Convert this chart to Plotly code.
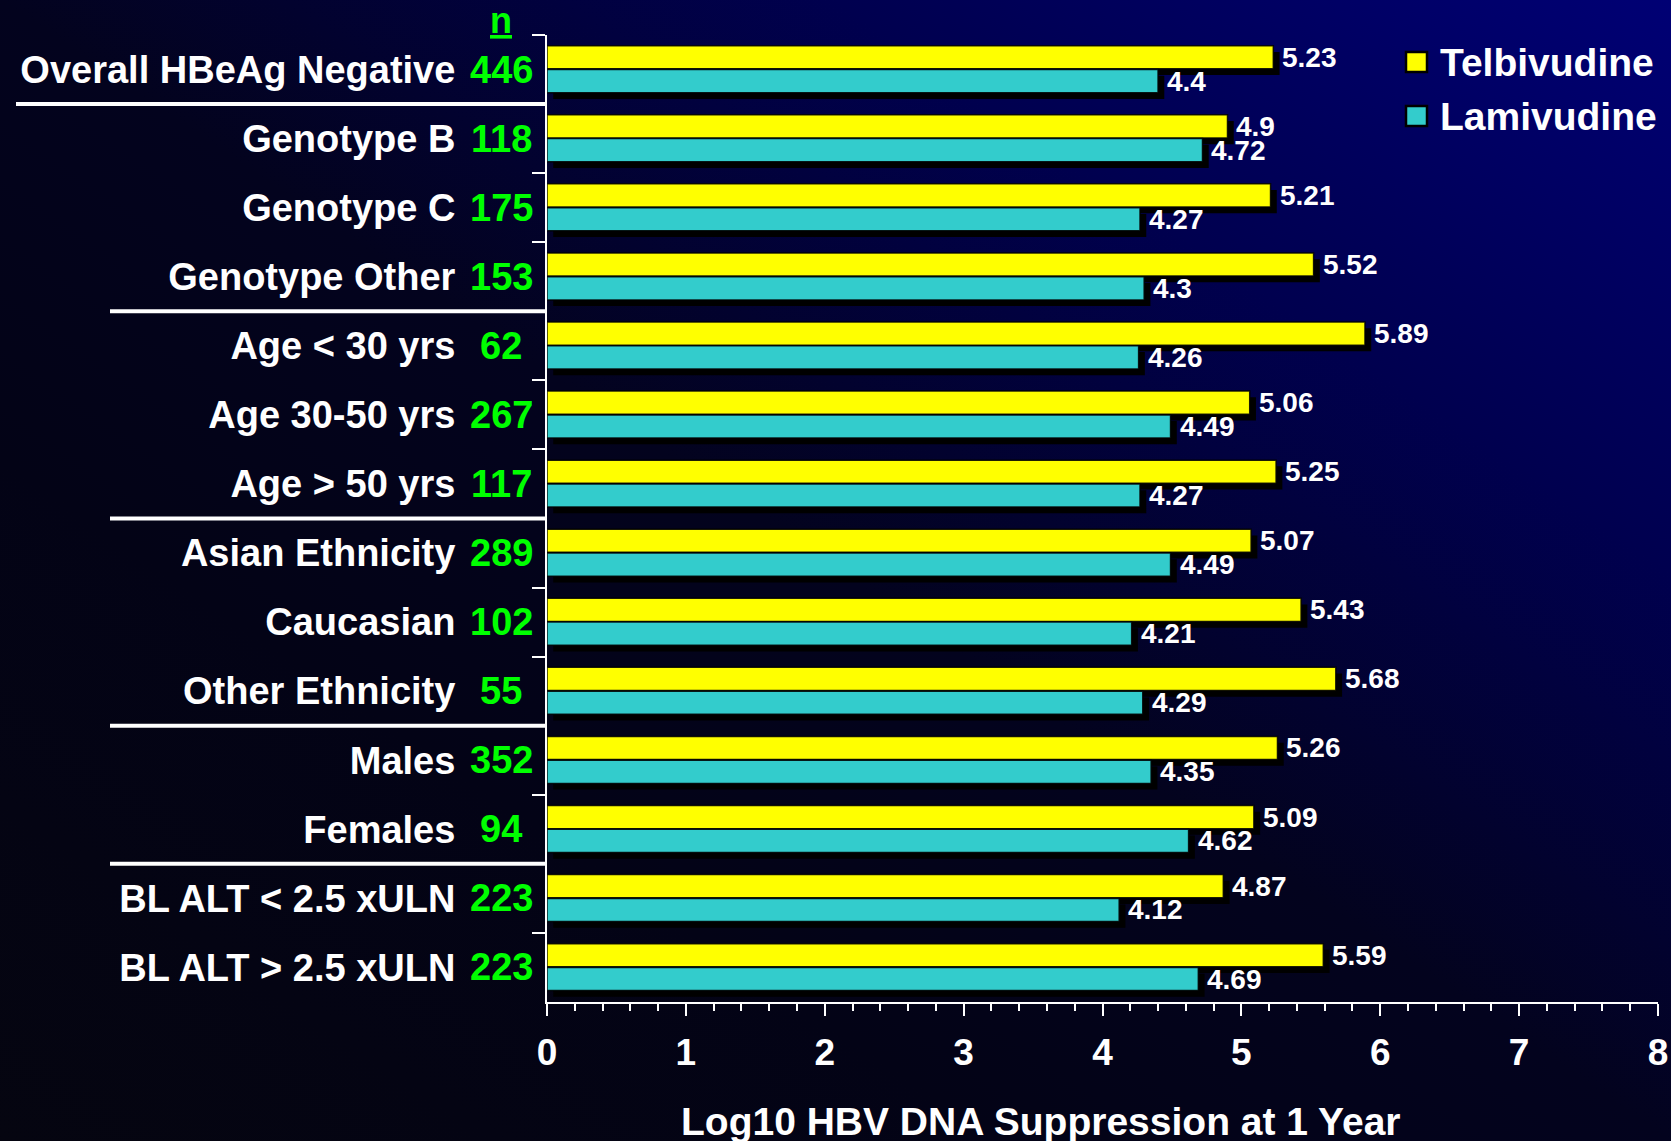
import base64
import plotly.graph_objects as go

# ---- data -----------------------------------------------------------------
categories = [
    "Overall HBeAg Negative", "Genotype B", "Genotype C", "Genotype Other",
    "Age < 30 yrs", "Age 30-50 yrs", "Age > 50 yrs",
    "Asian Ethnicity", "Caucasian", "Other Ethnicity",
    "Males", "Females",
    "BL ALT < 2.5 xULN", "BL ALT > 2.5 xULN",
]
n_patients = [446, 118, 175, 153, 62, 267, 117, 289, 102, 55, 352, 94, 223, 223]
telbivudine = [5.23, 4.9, 5.21, 5.52, 5.89, 5.06, 5.25, 5.07, 5.43, 5.68, 5.26, 5.09, 4.87, 5.59]
lamivudine = [4.4, 4.72, 4.27, 4.3, 4.26, 4.49, 4.27, 4.49, 4.21, 4.29, 4.35, 4.62, 4.12, 4.69]
x_tick_values = [0, 1, 2, 3, 4, 5, 6, 7, 8]
block_ends = [0, 3, 6, 9, 11]          # last row of each subgroup block
series_names = ["Telbivudine", "Lamivudine"]
x_title = "Log10 HBV DNA Suppression at 1 Year"

# ---- styling ----------------------------------------------------------------
W, H = 1671, 1141
PL, PR, PT, PB = 547, 1658, 35, 1002
FONT = "Liberation Sans, Arial, sans-serif"
YELLOW, TEAL, GREEN = "#ffff00", "#33cccc", "#00ff00"
BAR_W = 0.335
OFFSETS = [-0.345, 0.0]
SH_DX, SH_DY = 0.045, 0.09


def px_x(px):
    return (px - PL) / (PR - PL)


def px_y(py):
    return (PB - py) / (PB - PT)


series = [telbivudine, lamivudine]
colors = [YELLOW, TEAL]
n = len(categories)

fig = go.Figure()

# drop shadows behind the bars
for vals, off in zip(series, OFFSETS):
    fig.add_trace(go.Bar(
        y=categories, x=vals, base=[SH_DX] * n, orientation="h",
        offset=off + SH_DY, width=BAR_W,
        marker=dict(color="#000000", line=dict(width=0)),
        showlegend=False, hoverinfo="skip",
    ))

for name, vals, off, col in zip(series_names, series, OFFSETS, colors):
    fig.add_trace(go.Bar(
        y=categories, x=vals, name=name, orientation="h",
        offset=off, width=BAR_W,
        marker=dict(color=col, line=dict(color="rgba(0,0,0,0.85)", width=1.5)),
        showlegend=False,
    ))

annotations = []
# value labels
for vals, off in zip(series, OFFSETS):
    for i, v in enumerate(vals):
        annotations.append(dict(
            x=v, y=i + off + BAR_W / 2, xref="x", yref="y",
            text=str(v), showarrow=False, xanchor="left", yanchor="middle",
            xshift=7, font=dict(family=FONT, size=28, color="white", weight="bold"),
        ))

# patient counts
for i, cnt in enumerate(n_patients):
    annotations.append(dict(
        x=px_x(501), y=i, xref="paper", yref="y", text=str(cnt),
        showarrow=False, xanchor="center", yanchor="middle",
        font=dict(family=FONT, size=38, color=GREEN, weight="bold"),
    ))
annotations.append(dict(
    x=px_x(501), y=px_y(21), xref="paper", yref="paper", text="<u>n</u>",
    showarrow=False, xanchor="center", yanchor="middle",
    font=dict(family=FONT, size=36, color=GREEN, weight="bold"),
))

# axis title
annotations.append(dict(
    x=px_x(1041), y=px_y(1121), xref="paper", yref="paper", text=x_title,
    showarrow=False, xanchor="center", yanchor="middle",
    font=dict(family=FONT, size=39, color="white", weight="bold"),
))

shapes = []
# legend swatches and names
for k, (name, col) in enumerate(zip(series_names, colors)):
    cy = 62 + k * 54
    shapes.append(dict(
        type="rect", xref="paper", yref="paper",
        x0=px_x(1406), x1=px_x(1427), y0=px_y(cy - 10), y1=px_y(cy + 10),
        fillcolor=col, line=dict(color="black", width=2.5),
    ))
    annotations.append(dict(
        x=px_x(1438), y=px_y(cy), xref="paper", yref="paper", text=name,
        showarrow=False, xanchor="left", yanchor="middle",
        font=dict(family=FONT, size=39, color="white", weight="bold"),
    ))

# block separators
for j, idx in enumerate(block_ends):
    x_start = 16 if j == 0 else 110
    shapes.append(dict(
        type="line", xref="paper", yref="y",
        x0=px_x(x_start), x1=0, y0=idx + 0.5, y1=idx + 0.5,
        line=dict(color="white", width=4),
    ))

# dark-to-navy diagonal background
svg = (
    f'<svg xmlns="http://www.w3.org/2000/svg" width="{W}" height="{H}" '
    f'viewBox="0 0 {W} {H}" preserveAspectRatio="none">'
    '<defs><linearGradient id="g" x1="0" y1="1" x2="1" y2="0">'
    '<stop offset="0" stop-color="#050510"/>'
    '<stop offset="0.3" stop-color="#030316"/>'
    '<stop offset="0.5" stop-color="#03031e"/>'
    '<stop offset="0.75" stop-color="#00004f"/>'
    '<stop offset="1" stop-color="#000074"/>'
    '</linearGradient></defs>'
    f'<rect width="{W}" height="{H}" fill="url(#g)"/></svg>'
)
bg_src = "data:image/svg+xml;base64," + base64.b64encode(svg.encode()).decode()

fig.update_layout(
    width=W, height=H,
    margin=dict(l=PL, r=W - PR, t=PT, b=H - PB, pad=0),
    paper_bgcolor="#03031a", plot_bgcolor="rgba(0,0,0,0)",
    barmode="overlay", showlegend=False,
    annotations=annotations, shapes=shapes,
    images=[dict(
        source=bg_src, xref="paper", yref="paper",
        x=px_x(0), y=px_y(0), sizex=W / (PR - PL), sizey=H / (PB - PT),
        xanchor="left", yanchor="top", sizing="stretch", layer="below",
    )],
    font=dict(family=FONT, color="white"),
)

fig.update_xaxes(
    range=[0, 8], tickvals=x_tick_values, showgrid=False, zeroline=False,
    automargin=False,
    showline=True, linecolor="white", linewidth=2,
    ticks="outside", ticklen=12, tickwidth=2, tickcolor="white",
    ticklabelstandoff=5,
    tickfont=dict(family=FONT, size=37, color="white", weight="bold"),
    minor=dict(dtick=0.2, ticks="outside", ticklen=7, tickwidth=1.5, tickcolor="white"),
)
fig.update_yaxes(
    type="category", categoryorder="array", categoryarray=categories,
    range=[n - 0.5, -0.5], showgrid=False, zeroline=False,
    automargin=False,
    showline=True, linecolor="white", linewidth=2,
    ticks="outside", tickson="boundaries", ticklen=13, tickwidth=2, tickcolor="white",
    ticklabelstandoff=82,
    tickfont=dict(family=FONT, size=38, color="white", weight="bold"),
)

fig.write_html("out.html")
